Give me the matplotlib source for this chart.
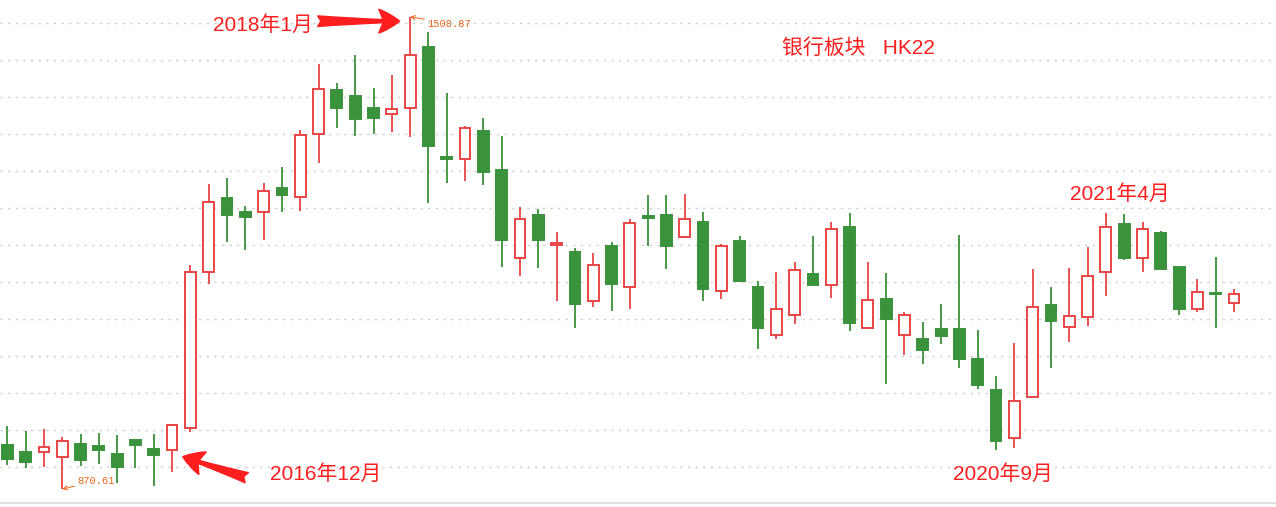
import numpy as np
import matplotlib
matplotlib.use('Agg')
import matplotlib.pyplot as plt

# Monthly candles of the HK22 bank sector, 2016-03 .. 2021-10
opens = [930.1, 920.7, 921.1, 914.3, 931.9, 929.2, 918.4, 936.9, 924.7, 923.8,
         952.7, 1163.5, 1263.9, 1245.0, 1244.6, 1277.4, 1264.9, 1350.0, 1409.9, 1401.8,
         1385.5, 1377.8, 1386.0, 1468.0, 1319.3, 1316.2, 1354.5, 1301.8, 1182.4, 1241.0,
         1200.8, 1191.0, 1124.3, 1199.1, 1143.3, 1239.6, 1241.0, 1210.8, 1231.5, 1137.8,
         1205.8, 1143.7, 1078.4, 1105.4, 1161.2, 1146.0, 1224.7, 1087.8, 1127.4, 1078.4,
         1073.4, 1086.9, 1086.9, 1046.4, 1004.5, 939.2, 994.6, 1119.3, 1089.2, 1102.7,
         1163.5, 1228.8, 1182.4, 1216.6, 1170.7, 1113.5, 1135.5, 1121.6]
highs = [955.8, 949.1, 951.8, 940.5, 945.0, 946.4, 944.1, 938.3, 945.0, 958.5,
         1173.4, 1282.8, 1290.5, 1253.1, 1284.2, 1305.8, 1355.8, 1445.0, 1419.3, 1457.2,
         1412.6, 1430.1, 1508.87, 1488.7, 1405.4, 1361.6, 1372.0, 1347.7, 1251.8, 1249.1,
         1218.0, 1196.4, 1189.6, 1204.1, 1235.5, 1268.0, 1268.0, 1269.3, 1245.0, 1201.8,
         1212.6, 1151.8, 1163.9, 1177.4, 1212.6, 1231.5, 1243.7, 1177.4, 1162.6, 1109.9,
         1096.4, 1120.7, 1213.9, 1085.5, 1023.4, 1068.0, 1168.0, 1143.7, 1169.3, 1197.7,
         1243.7, 1242.3, 1231.5, 1219.3, 1170.7, 1154.5, 1184.2, 1141.0]
lows = [902.7, 899.5, 900.8, 870.61, 902.2, 904.5, 879.2, 899.1, 875.1, 894.1,
        947.3, 1148.1, 1204.9, 1193.7, 1207.2, 1245.0, 1246.8, 1311.6, 1358.9, 1348.1,
        1350.4, 1353.5, 1346.8, 1257.6, 1284.6, 1287.3, 1281.9, 1171.1, 1158.9, 1169.7,
        1125.1, 1088.7, 1117.0, 1111.6, 1114.3, 1199.5, 1168.4, 1210.8, 1125.1, 1127.8,
        1150.8, 1060.3, 1073.8, 1094.1, 1145.4, 1129.2, 1084.6, 1087.8, 1013.0, 1052.2,
        1040.0, 1067.0, 1034.6, 1006.2, 923.8, 926.5, 994.6, 1034.6, 1069.7, 1091.4,
        1131.9, 1180.1, 1164.3, 1168.4, 1106.2, 1110.3, 1088.7, 1110.3]
closes = [911.6, 907.6, 927.0, 935.1, 909.9, 923.4, 900.8, 930.5, 916.6, 957.2,
          1163.5, 1258.1, 1241.4, 1238.7, 1273.0, 1268.4, 1348.7, 1410.8, 1386.0, 1371.1,
          1372.4, 1384.2, 1456.8, 1334.6, 1316.2, 1358.1, 1299.5, 1207.6, 1235.1, 1207.6,
          1202.7, 1121.1, 1173.0, 1148.1, 1229.7, 1237.3, 1199.5, 1235.1, 1141.4, 1198.7,
          1152.2, 1088.7, 1113.5, 1166.2, 1146.8, 1221.6, 1095.4, 1125.7, 1100.8, 1105.4,
          1058.9, 1077.8, 1046.8, 1011.6, 936.0, 989.6, 1116.6, 1098.1, 1104.5, 1158.1,
          1224.3, 1182.8, 1221.6, 1168.4, 1114.3, 1136.5, 1134.7, 1133.8]
grid_levels = np.arange(900, 1501, 50)

RED = '#e84444'
GREEN = '#3a923a'
TXT_RED = '#ff1e1e'
ORANGE = '#e8661e'
CJK = ['Liberation Sans', 'Noto Sans CJK SC', 'DejaVu Sans']

o = np.array(opens)
h = np.array(highs)
l = np.array(lows)
c = np.array(closes)
x = np.arange(len(o))
up = c >= o
cols = np.where(up, RED, GREEN)

fig = plt.figure(figsize=(12.76, 5.07), dpi=100)
ax = fig.add_axes([0, 4 / 507, 1, 503 / 507])

# wicks, then bodies on top
ax.vlines(x, l, h, colors=cols, linewidth=1.3, zorder=2)
ax.bar(x, np.abs(c - o), bottom=np.minimum(o, c), width=0.59,
       color=np.where(up, 'white', GREEN), edgecolor=cols, linewidth=1.4, zorder=3)

ax.set_xlim(-0.399, 69.29)
ax.set_ylim(851.76, 1531.49)
ax.set_yticks(grid_levels)
ax.set_xticks([])
ax.tick_params(left=False, labelleft=False)
ax.grid(axis='y', color='#cccccc', linestyle=(0, (1.5, 4)), linewidth=1.0)
for s in ['top', 'left', 'right']:
    ax.spines[s].set_visible(False)
ax.spines['bottom'].set_color('#e0e0e0')
ax.spines['bottom'].set_linewidth(1.5)

# max / min labels
imax = int(np.argmax(h))
imin = int(np.argmin(l))
ax.annotate(f'{h[imax]:.2f}', xy=(x[imax], h[imax]), xytext=(17, -7),
            textcoords='offset pixels', ha='left', va='center', color=ORANGE,
            fontsize=7.5, family='Liberation Mono',
            arrowprops=dict(arrowstyle='->', color=ORANGE, lw=0.7, shrinkA=0, shrinkB=0))
ax.annotate(f'{l[imin]:.2f}', xy=(x[imin], l[imin]), xytext=(15, 8),
            textcoords='offset pixels', ha='left', va='center', color=ORANGE,
            fontsize=7.5, family='Liberation Mono',
            arrowprops=dict(arrowstyle='->', color=ORANGE, lw=0.7, shrinkA=0, shrinkB=0))

# big red arrows
arrow = dict(arrowstyle='fancy,head_length=0.75,head_width=0.85,tail_width=0.38',
             color=TXT_RED, shrinkA=0, shrinkB=0, mutation_scale=20)
ax.annotate('', xy=(imax - 0.57, h[imax] - 6), xytext=(-82, 0),
            textcoords='offset pixels', arrowprops=arrow)
ax.annotate('', xy=(9.58, o[9] - 9.5), xytext=(64, -21),
            textcoords='offset pixels', arrowprops=arrow)

# red notes
notes = [('2018年1月', 212.7, 25.5), ('2016年12月', 270, 474.5),
         ('2020年9月', 952.7, 474), ('2021年4月', 1070, 194),
         ('银行板块   HK22', 781.7, 47.5)]
for txt, px, py in notes:
    fig.text(px / 1276, 1 - py / 507, txt, color=TXT_RED, fontsize=15,
             family=CJK, ha='left', va='center')

fig.savefig('out.png', dpi=100, facecolor='white')
